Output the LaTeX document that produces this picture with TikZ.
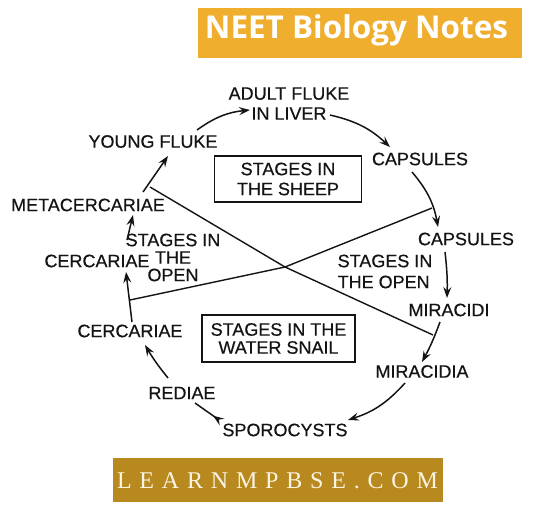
\documentclass[tikz,border=0pt]{standalone}
\usepackage{fontspec}
\setmainfont{Liberation Sans}[FakeBold=0.4]
\newfontfamily\labelfont{Liberation Sans}[FakeBold=0.5]
\newfontfamily\neetfont{Open Sans}
\newfontfamily\webfont{Liberation Serif}
\usetikzlibrary{arrows.meta}
\definecolor{ink}{HTML}{141414}
\definecolor{neetorange}{HTML}{EFAE2E}
\definecolor{webgold}{HTML}{B8891F}
\definecolor{webtext}{HTML}{FBF4E2}
\begin{document}
\begin{tikzpicture}[x=1pt,y=-1pt,
  lbl/.style={inner sep=0pt,text=ink,align=center,font=\labelfont\fontsize{18}{20}\selectfont},
  boxed/.style={lbl,draw=ink,line width=1.2pt},
  cyc/.style={draw=ink,line width=1.5pt,-{Stealth[length=11pt,width=8pt,inset=4pt]}},
  rcyc/.style={draw=ink,line width=1.5pt,-{Stealth[length=11pt,width=8pt,inset=4pt,reversed]}},
  cross/.style={draw=ink,line width=1.4pt}]
\useasboundingbox (0,0) rectangle (546,512);
\fill[white] (0,0) rectangle (546,512);
% banners
\node[fill=neetorange,minimum width=324pt,minimum height=50pt,inner sep=0pt] (neetbox) at (360,33) {};
\node[anchor=base,inner sep=0pt,text=white] (neet) at (356.5,38) {\resizebox{303pt}{!}{\neetfont\bfseries NEET Biology Notes}};
\node[fill=webgold,minimum width=330pt,minimum height=44pt,inner sep=0pt] (webbox) at (278,480) {};
\node[anchor=base,inner sep=0pt,text=webtext] (web) at (277.5,488) {\webfont\fontsize{24}{24}\selectfont\makebox[321pt][s]{L\hfill E\hfill A\hfill R\hfill N\hfill M\hfill P\hfill B\hfill S\hfill E\hfill .\hfill C\hfill O\hfill M}};
% labels
\node[lbl] (adult) at (289,103.5) {ADULT FLUKE\\IN LIVER};
\node[lbl] (young) at (153,141.5) {YOUNG FLUKE};
\node[boxed,minimum width=147pt,minimum height=46pt] (sheep) at (288,179) {STAGES IN\\THE SHEEP};
\node[lbl] (caps1) at (420,159) {CAPSULES};
\node[lbl] (caps2) at (466,239) {CAPSULES};
\node[lbl,align=left,font=\labelfont\fontsize{18}{21}\selectfont] (openR) at (385,271.5) {STAGES IN\\THE OPEN};
\node[lbl] (miracidi) at (449,310) {MIRACIDI};
\node[lbl] (meta) at (88,205) {METACERCARIAE};
\node[lbl,font=\labelfont\fontsize{18}{17.5}\selectfont] (openL) at (173,257.5) {STAGES IN\\THE\\OPEN};
\node[lbl] (cercU) at (97,261) {CERCARIAE};
\node[lbl] (cercL) at (130,331) {CERCARIAE};
\node[boxed,minimum width=153pt,minimum height=47pt,font=\labelfont\fontsize{18}{18}\selectfont] (snail) at (278.5,338.5) {STAGES IN THE\\WATER SNAIL};
\node[lbl] (rediae) at (182,393) {REDIAE};
\node[lbl] (sporo) at (285,430) {SPOROCYSTS};
\node[lbl] (miracidia) at (422,371.5) {MIRACIDIA};
% arrow end points
\coordinate (young-o) at (197,130);
\coordinate (adult-i) at (250,110);
\coordinate (adult-o) at (330,115);
\coordinate (caps1-i) at (390,147);
\coordinate (caps1-o) at (412,172);
\coordinate (caps2-i) at (438,227);
\coordinate (caps2-o) at (445,252);
\coordinate (miracidi-i) at (447,298);
\coordinate (miracidi-o) at (440,322);
\coordinate (miracidia-i) at (422,362);
\coordinate (miracidia-o) at (405,383);
\coordinate (sporo-i) at (348,420);
\coordinate (rediae-s) at (195,403);
\coordinate (sporo-s) at (222,422);
\coordinate (rediae-o) at (168,378);
\coordinate (cercL-i) at (145,345);
\coordinate (cercL-o) at (132,322);
\coordinate (cercU-i) at (126,272);
\coordinate (cercU-o) at (127,240);
\coordinate (meta-i) at (133,215);
\coordinate (meta-o) at (143,192);
\coordinate (young-i) at (168,156);
% cycle arrows
\draw[cyc] (young-o) to[bend left=15] (adult-i);
\draw[cyc] (adult-o) to[bend left=15] (caps1-i);
\draw[cyc] (caps1-o) to[bend left=15] (caps2-i);
\draw[cyc] (caps2-o) to[bend left=4] (miracidi-i);
\draw[cyc] (miracidi-o) to[bend left=4] (miracidia-i);
\draw[cyc] (miracidia-o) to[bend left=15] (sporo-i);
\draw[rcyc] (rediae-s) -- (sporo-s);
\draw[cyc] (rediae-o) to[bend left=4] (cercL-i);
\draw[cyc] (cercL-o) -- (cercU-i);
\draw[cyc] (cercU-o) -- (meta-i);
\draw[cyc] (meta-o) -- (young-i);
% crossing lines
\coordinate (xing) at (285,267);
\coordinate (la-s) at (150,187);
\coordinate (la-e) at (433,335);
\coordinate (lb-s) at (130,300);
\coordinate (lb-e) at (432,208);
\draw[cross] (la-s) -- (xing) -- (la-e);
\draw[cross] (lb-s) -- (xing) -- (lb-e);
\end{tikzpicture}
\end{document}
